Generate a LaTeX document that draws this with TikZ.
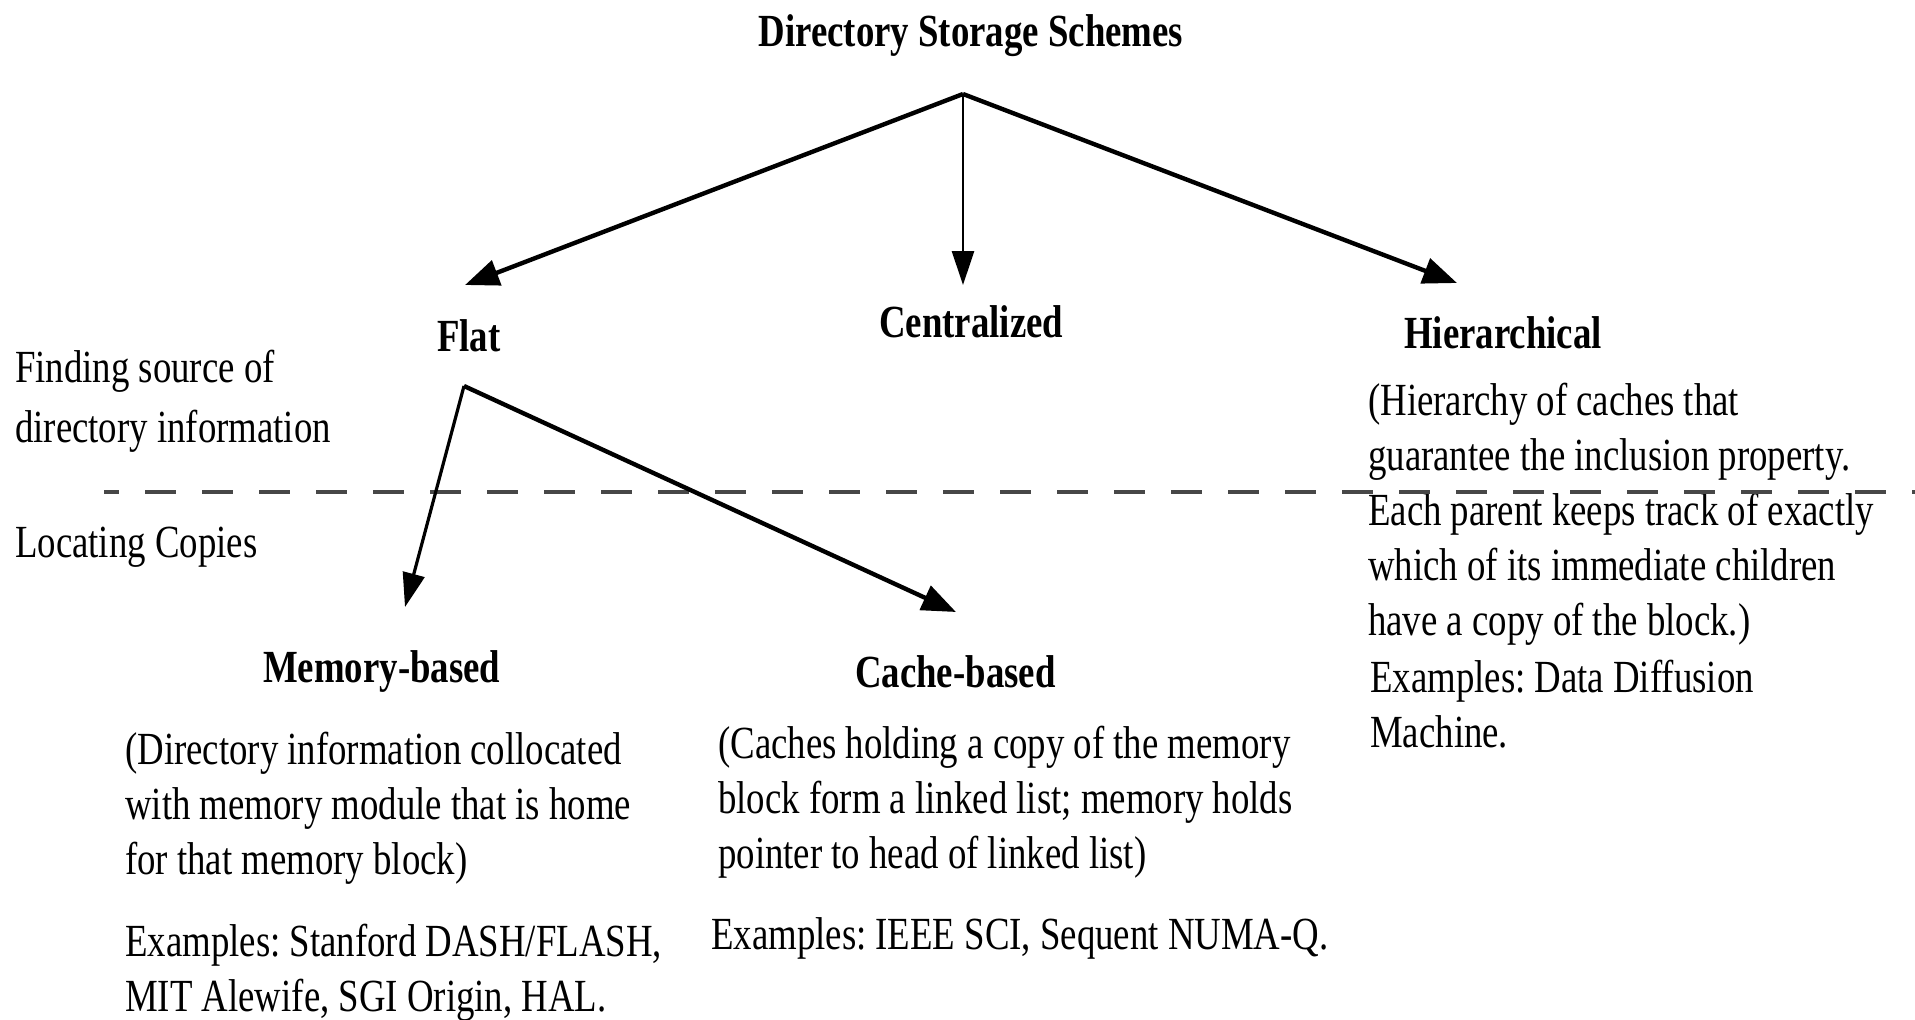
\documentclass[tikz,border=0pt]{standalone}
\usepackage{fontspec}
\setmainfont{Liberation Serif}[FakeStretch=0.80]
\usetikzlibrary{arrows.meta}

\tikzset{
  txt/.style={inner sep=0pt,anchor=base west,font=\fontsize{46bp}{55bp}\selectfont\frenchspacing},
  head/.style={txt,font=\fontsize{46bp}{55bp}\selectfont\bfseries},
  branch/.style={-{Triangle[length=34bp,width=26bp]},line width=4.4bp},
  thinbranch/.style={-{Triangle[length=34bp,width=22bp]},line width=2.8bp},
  divider/.style={draw=black!72,line width=4bp,dash pattern=on 31bp off 26bp,dash phase=16bp}
}
\newcommand{\lines}[1]{\begin{tabular}[t]{@{}l@{}}#1\end{tabular}}

\begin{document}
\begin{tikzpicture}
\useasboundingbox (0,0) rectangle (1915bp,-1020bp);

% levels
\node (DSS) at (971bp,-46bp)[head,anchor=base] {Directory Storage Schemes};
\node (Flat) at (437bp,-351bp)[head] {Flat};
\node (Cent) at (879bp,-337bp)[head] {Centralized};
\node (Hier) at (1404bp,-348bp)[head] {Hierarchical};
\node (Mem) at (263bp,-682bp)[head] {Memory-based};
\node (Cache) at (855bp,-687bp)[head] {Cache-based};

% side labels
\node (Find) at (15bp,-382bp)[txt] {\lines{Finding source of\\[5bp]directory information}};
\node (Loc) at (15bp,-557bp)[txt] {Locating Copies};

% descriptions
\node (MemTxt) at (125bp,-764bp)[txt] {\lines{(Directory information collocated\\with memory module that is home\\for that memory block)}};
\node (MemEx) at (125bp,-956bp)[txt] {\lines{Examples: Stanford DASH/FLASH,\\MIT Alewife, SGI Origin, HAL.}};
\node (CacheTxt) at (718bp,-758bp)[txt] {\lines{(Caches holding a copy of the memory\\block form a linked list; memory holds\\pointer to head of linked list)}};
\node (CacheEx) at (711bp,-949bp)[txt] {Examples: IEEE SCI, Sequent NUMA-Q.};
\node (HierTxt) at (1368bp,-415bp)[txt] {\lines{(Hierarchy of caches that\\guarantee the inclusion property.\\Each parent keeps track of exactly\\which of its immediate children\\have a copy of the block.)}};
\node (HierEx) at (1370bp,-692bp)[txt] {\lines{Examples: Data Diffusion\\Machine.}};

% fork points and arrow tips
\coordinate (DSSfork) at (963bp,-94bp);
\coordinate (FlatIn) at (465bp,-285bp);
\coordinate (CentIn) at (963bp,-285bp);
\coordinate (HierIn) at (1457bp,-283bp);
\coordinate (Flatfork) at (464bp,-386bp);
\coordinate (MemIn) at (405bp,-607bp);
\coordinate (CacheIn) at (956bp,-612bp);
\coordinate (DivL) at (104bp,-492bp);
\coordinate (DivR) at (1915bp,-492bp);

\draw [divider] (DivL) -- (DivR);
\draw [branch] (DSSfork) -- (FlatIn);
\draw [thinbranch] (DSSfork) -- (CentIn);
\draw [branch] (DSSfork) -- (HierIn);
\draw [thinbranch,line width=3.2bp] (Flatfork) -- (MemIn);
\draw [branch] (Flatfork) -- (CacheIn);
\end{tikzpicture}
\end{document}
